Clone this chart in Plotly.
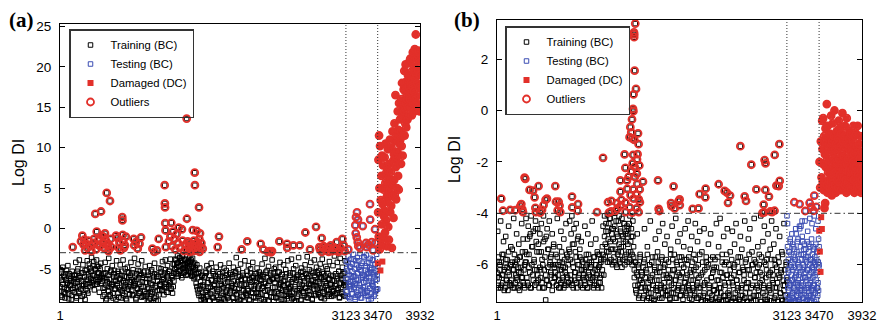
import numpy as np
import plotly.graph_objects as go

# ---------------- data ----------------
boundaries = [1, 3123, 3470, 3932]
x_tick_labels = ["1", "3123", "3470", "3932"]

thr_a = -3.0
thr_b = -4.0

yticks_a = [-5, 0, 5, 10, 15, 20, 25]
yticks_b = [-6, -4, -2, 0, 2]
yrange_a = [-9.1, 25.3]
yrange_b = [-7.45, 3.52]

# Panel (a) training (BC), samples 1..3123: spread of the cloud
train_a_base = [
    -7.2,-5.1,-8.3,-6.4,-4.8,-7.9,-6.0,-8.6,-5.6,-7.4,-6.8,-4.6,-8.1,-5.9,-7.0,-6.5,-8.8,-5.3,-7.6,-6.2,
    -5.8,-7.3,-4.2,-8.4,-6.6,-5.0,-7.8,-3.9,-6.1,-8.9,-5.5,-7.1,-4.5,-6.9,-8.2,-5.2,-7.5,-6.3,-4.0,-8.0,
    -6.0,-4.4,-7.2,-5.3,-3.6,-6.7,-5.8,-4.1,-7.6,-5.0,-6.3,-3.9,-6.9,-5.5,-4.7,-7.9,-6.1,-4.3,-5.7,-6.5,
    -8.4,-5.6,-7.3,-4.2,-8.9,-6.2,-5.0,-7.7,-3.7,-6.8,-8.2,-5.4,-7.0,-4.6,-8.6,-6.0,-5.2,-7.5,-6.5,-4.0,
    -7.1,-5.3,-8.5,-6.3,-4.5,-7.6,-5.8,-8.0,-3.9,-6.7,-7.4,-5.0,-8.7,-6.0,-4.8,-7.2,-5.5,-8.2,-6.6,-4.2,
    -6.4,-8.3,-5.1,-7.0,-3.7,-6.8,-8.6,-5.6,-7.5,-4.4,-6.1,-8.0,-5.3,-7.2,-4.0,-6.6,-8.4,-5.8,-7.8,-4.7,
    -8.1,-6.2,-9.1,-5.4,-7.4,-4.6,-8.7,-6.8,-5.1,-7.9,-9.2,-6.0,-4.3,-7.1,-8.4,-5.7,-6.5,-8.9,-4.9,-7.6,
    -6.9,-5.0,-7.7,-4.1,-6.3,-8.2,-5.5,-3.9,-7.2,-6.0,-4.6,-7.9,-5.3,-6.7,-3.8,-7.4,-5.8,-8.0,-4.4,-6.5,
    -5.0,-3.8,-5.6,-4.3,-3.4,-5.9,-4.7,-3.6,-5.2,-4.0,-6.1,-3.3,-4.9,-5.5,-3.9,-4.5,-5.8,-3.5,-4.2,-5.3,
    -4.6,-3.4,-5.4,-4.1,-5.9,-3.7,-4.8,-6.2,-4.3,-5.1,-6.8,-4.5,-7.6,-5.6,-8.3,-4.9,-7.1,-8.8,-5.8,-7.9,
    -8.6,-6.1,-9.1,-5.3,-7.7,-4.6,-8.2,-6.7,-5.0,-8.9,-7.3,-4.3,-6.4,-8.5,-5.6,-7.0,-9.0,-5.9,-4.8,-7.5,
    -7.8,-5.4,-8.8,-6.5,-4.5,-9.2,-7.1,-5.9,-8.3,-4.9,-6.8,-9.0,-5.2,-7.6,-8.6,-6.2,-4.3,-8.0,-5.7,-7.3,
    -6.0,-8.5,-4.8,-7.4,-9.2,-5.5,-3.6,-8.1,-6.6,-5.1,-8.9,-7.0,-4.4,-6.3,-8.4,-5.8,-7.7,-9.1,-4.0,-6.9,
    -8.2,-5.3,-7.5,-4.6,-8.8,-6.4,-5.0,-7.9,-6.1,-4.2,-8.5,-7.1,-5.6,-9.0,-6.7,-4.9,-7.4,-8.1,-5.4,-6.3,
    -5.9,-8.7,-4.4,-7.2,-6.0,-9.1,-3.7,-6.8,-8.3,-5.2,-7.6,-4.7,-8.9,-6.5,-5.5,-7.9,-3.9,-6.2,-8.5,-5.0,
    -7.3,-4.8,-8.6,-6.1,-5.4,-9.0,-7.0,-4.2,-6.7,-8.2,-5.7,-7.6,-4.5,-8.8,-6.4,-5.1,-7.8,-8.4,-4.0,-6.9,
    -8.0,-5.5,-7.2,-3.8,-8.7,-6.3,-5.0,-9.0,-7.5,-4.6,-6.0,-8.4,-5.8,-3.6,-7.7,-6.6,-8.9,-4.9,-7.0,-5.3,
    -6.2,-8.3,-4.5,-7.4,-5.7,-3.5,-8.6,-6.9,-5.1,-7.8,-4.2,-6.5,-8.8,-5.5,-7.1,-3.9,-6.0,-8.1,-4.8,-7.5,
    -7.9,-5.2,-6.8,-4.4,-8.5,-6.1,-3.8,-7.3,-5.6,-8.7,-6.6,-4.7,-7.6,-5.0,-8.2,-6.3,-4.1,-7.0,-5.8,-8.4,
    -6.4,-4.6,-7.7,-3.4,-8.1,-5.9,-6.9,-4.2,-7.4,-5.3,-8.6,-3.7,-6.2,-7.9,-4.8,-5.6,-8.3,-6.7,-4.0,-7.1,
]
# Panel (a) training (BC): the dense lower core of the cloud
train_a_core = [
    -6.1,-7.8,-5.4,-8.5,-6.9,-5.8,-7.3,-8.1,-6.4,-5.2,-7.6,-6.7,-8.7,-5.6,-7.0,-6.2,-8.3,-5.9,-7.4,-6.6,
    -7.9,-5.7,-6.8,-8.6,-5.3,-7.2,-6.3,-8.0,-5.9,-7.5,-6.5,-8.4,-5.5,-7.1,-6.0,-8.8,-6.9,-5.1,-7.7,-6.4,
    -5.6,-6.8,-4.9,-6.2,-5.3,-7.0,-4.6,-6.5,-5.8,-6.9,-5.1,-6.0,-4.7,-6.6,-5.5,-6.3,-5.0,-6.8,-5.9,-6.1,
    -7.4,-6.1,-8.2,-5.5,-7.0,-8.7,-6.6,-5.8,-7.8,-6.3,-8.4,-5.2,-7.2,-6.9,-8.0,-5.6,-7.5,-6.4,-8.8,-6.0,
    -6.8,-8.0,-5.6,-7.3,-6.2,-8.6,-5.3,-7.7,-6.5,-8.3,-5.9,-7.0,-6.7,-8.9,-5.4,-7.5,-6.1,-8.1,-5.8,-7.2,
    -7.6,-5.5,-8.2,-6.6,-7.1,-5.9,-8.8,-6.3,-7.4,-5.2,-8.0,-6.9,-7.8,-5.7,-8.5,-6.1,-7.2,-5.4,-8.3,-6.7,
    -8.4,-6.7,-7.5,-5.8,-8.9,-6.2,-7.8,-5.3,-8.1,-7.0,-6.4,-8.6,-5.6,-7.3,-9.0,-6.0,-7.7,-5.9,-8.2,-6.9,
    -7.0,-5.4,-6.6,-7.6,-5.8,-6.2,-7.3,-5.1,-6.9,-7.9,-5.6,-6.4,-7.1,-5.3,-6.7,-7.5,-5.9,-6.1,-7.2,-5.5,
    -4.4,-5.1,-3.9,-4.8,-5.6,-4.2,-5.3,-3.7,-4.6,-5.8,-4.0,-5.0,-4.5,-5.4,-3.8,-4.9,-5.2,-4.3,-5.7,-4.1,
    -5.0,-4.2,-5.5,-3.9,-4.7,-5.8,-4.4,-5.2,-6.0,-4.9,-5.6,-7.2,-6.1,-8.0,-5.4,-7.5,-6.6,-8.4,-5.9,-7.0,
    -7.2,-8.8,-6.0,-7.9,-5.5,-8.4,-6.7,-7.4,-9.0,-5.8,-8.1,-6.4,-7.7,-5.3,-8.6,-6.9,-7.1,-5.9,-8.3,-6.2,
    -8.5,-6.3,-7.6,-5.6,-9.1,-6.9,-8.0,-5.4,-7.3,-8.7,-6.1,-7.9,-5.8,-8.3,-6.6,-7.2,-9.0,-5.5,-7.7,-6.8,
    -7.1,-5.7,-8.6,-6.5,-7.8,-5.3,-8.2,-6.9,-9.1,-6.0,-7.4,-5.9,-8.8,-6.3,-7.6,-5.5,-8.4,-7.0,-6.2,-8.0,
    -6.9,-8.3,-5.8,-7.7,-6.2,-8.9,-5.5,-7.2,-6.6,-8.0,-5.9,-7.5,-6.4,-8.6,-5.6,-7.9,-6.1,-8.4,-7.1,-5.7,
    -8.1,-6.4,-7.4,-5.7,-8.8,-6.8,-7.7,-5.4,-8.3,-6.1,-7.1,-9.0,-6.5,-7.9,-5.8,-8.5,-6.3,-7.3,-5.5,-8.0,
    -6.7,-8.5,-5.9,-7.8,-6.3,-8.1,-5.4,-7.4,-6.9,-8.8,-5.7,-7.1,-6.5,-8.3,-6.0,-7.6,-5.6,-8.7,-6.8,-7.3,
    -7.5,-5.8,-8.3,-6.6,-7.9,-5.5,-8.6,-6.2,-7.2,-9.0,-6.4,-7.7,-5.7,-8.1,-6.9,-7.4,-5.4,-8.8,-6.0,-7.8,
    -8.0,-6.5,-7.3,-5.6,-8.5,-6.1,-7.7,-5.9,-8.2,-6.8,-7.0,-5.3,-8.7,-6.4,-7.5,-5.8,-8.3,-6.7,-7.1,-5.5,
    -6.6,-8.2,-5.7,-7.4,-6.0,-8.6,-5.4,-7.8,-6.3,-8.0,-5.9,-7.1,-6.8,-8.4,-5.6,-7.6,-6.2,-8.1,-6.9,-7.3,
    -7.8,-5.9,-8.3,-6.5,-7.1,-5.6,-8.0,-6.2,-7.6,-5.3,-8.5,-6.8,-7.3,-5.8,-8.1,-6.4,-7.0,-5.5,-8.4,-6.7,
]
# Panel (a) training samples above the threshold (sample number, Log DI)
train_a_out_idx = [
    140, 245, 266, 285, 299, 386, 449, 402, 372, 424, 438, 511, 547, 474, 503, 518, 536, 613, 631, 681,
    683, 686, 692, 711, 642, 806, 886, 812, 1031, 1079, 1144, 1146, 1148, 1150, 1153, 1156, 1216, 1235,
    1206, 1275, 1297, 1333, 1384, 1387, 1450, 1472, 1474, 1519, 1494, 1530, 1522, 1723, 1737, 1985, 2046,
    2193, 2221, 2287, 2396, 2480, 2482, 2549, 2619, 2680, 2797, 2859, 2833, 2877, 2931, 3022, 3084, 3099,
    3051, 2957, 2731,
    230, 258, 275, 310, 330, 345, 360, 395, 410, 455, 465, 480, 492, 525, 530, 555, 560, 650, 660, 700,
    720, 830, 850, 870, 1010, 1060, 1190, 1225, 1250, 1260, 1290, 1310, 1340, 1355,
    1370, 1385, 1395, 1405, 1415, 1425, 1435, 1445, 1455, 1462, 1470, 1478, 1485, 1492, 1500, 1508, 1515,
    1525, 1535, 1545, 1560, 2272, 2290, 2305, 2316, 2840, 2860, 2880, 2900, 2915, 2935, 2950, 2975, 2990,
    3010, 3040, 3065, 3110,
]
train_a_out_val = [
    -2.3, -0.9, -1.4, -1.9, -2.4, 1.8, 2.1, -0.4, -1.3, -1.3, -2.2, 4.4, 3.4, -1.0, -1.5, -2.1, -2.5, -0.9, -1.2, 1.4,
    1.0, -0.8, -1.6, -2.1, -2.4, -1.3, -1.1, -2.1, -2.9, -1.3, 5.35, 3.1, 2.6, 0.65, -0.25, -2.3, 0.7, -0.4,
    -1.0, -0.7, 0.1, -0.1, 13.6, 1.2, -0.2, 6.9, 5.35, 2.6, -0.3, -0.6, -1.3, -2.3, -1.0, -2.6, -1.6,
    -1.9, -2.6, -2.8, -1.6, -1.9, -2.4, -2.1, -2.1, -0.5, 0.2, -1.2, -2.3, -2.3, -2.4, -1.7, -1.3, -2.1,
    -2.7, -2.1, -2.6,
    -1.6, -2.0, -2.7, -1.5, -2.2, -2.8, -1.8, -2.6, -2.0, -0.9, -1.8, -2.4, -0.6, -1.9, -2.8, -1.3, -2.3, -1.8, -2.7, -2.4,
    -1.0, -1.7, -2.5, -1.9, -2.5, -2.7, -1.6, -2.2, -1.3, -2.6, -1.8, -2.4, -1.5, -2.8,
    -2.0, -2.6, -1.6, -2.3, -2.9, -1.8, -2.5, -2.1, -2.8, -1.5, -2.4, -1.9, -2.7, -2.2, -1.7, -2.6, -2.0,
    -2.9, -2.3, -1.8, -2.5, -2.9, -2.85, -2.95, -2.8, -2.6, -2.9, -2.2, -2.7, -2.4, -2.9, -2.5, -2.8, -2.3,
    -2.6, -2.9, -2.4, -2.8,
]
# Panel (a) testing (BC), samples 3124..3470
test_a_base = [
    -6.2,-4.1,-7.8,-5.3,-3.4,-8.5,-6.9,-4.7,-7.2,-3.8,-5.9,-8.1,-4.4,-6.6,-3.2,-7.5,-5.0,-8.8,-4.0,-6.3,
    -7.0,-3.6,-5.6,-8.3,-4.8,-6.8,-3.1,-7.7,-5.2,-8.6,-4.3,-6.0,-7.3,-3.5,-5.8,-8.0,-4.6,-6.5,-3.3,-7.9,
    -5.4,-8.4,-4.2,-6.1,-7.4,-3.7,-5.1,-8.7,-4.9,-6.7,-7.1,-3.9,-5.5,-8.2,-4.5,-6.4,-7.6,-3.2,-5.7,-7.5,
]
test_a_core = [
    -7.8,-5.0,-8.4,-6.3,-4.2,-7.1,-5.7,-8.7,-6.6,-4.8,-7.5,-5.3,-8.1,-6.0,-3.8,-7.3,-5.9,-8.5,-6.8,-4.5,
    -7.9,-5.5,-8.2,-6.4,-4.0,-7.0,-5.1,-8.6,-6.1,-4.6,-7.6,-5.8,-8.0,-6.7,-3.6,-7.2,-5.2,-8.3,-6.2,-4.3,
    -7.7,-5.6,-8.8,-6.5,-4.9,-7.4,-5.4,-8.1,-6.9,-3.9,-7.1,-5.7,-8.4,-6.0,-4.4,-7.8,-5.3,-7.5,-6.3,-4.7,
]
test_a_out_idx = [3244, 3233, 3226, 3255, 3307, 3230, 3241, 3252, 3258, 3386, 3388, 3441, 3343, 3368,
                  3149, 3277, 3351, 3405, 3445, 3420]
test_a_out_val = [2.0, 1.4, 0.4, 1.1, 0.3, -0.6, -1.1, -1.7, -2.2, 3.0, 1.1, -0.1, -1.8, -2.0,
                  -2.6, -2.4, -2.3, -1.7, -1.8, -2.7]
# Panel (a) damaged (DC), samples 3471..3932
dmg_a = [
    -4.3, 2.0, 8.5, -1.0, 11.5, 5.0, -2.6, 10.2, -5.2, 3.5,
    -2.0, 6.5, 0.5, 9.0, -4.1, 3.0, 7.8, -1.2, 4.8, 1.5,
    2.2, 8.8, -0.5, 5.6, 10.5, 1.0, 6.9, -2.2, 4.0, 7.5,
    3.3, 9.8, 0.2, 6.2, -1.4, 8.0, 4.5, 11.0, 2.0, 5.3,
    7.0, 2.8, 10.0, -2.4, 5.5, 12.0, 4.0, 8.4, 1.3, 9.2,
    6.0, 13.0, 4.2, 10.8, 16.5, 7.6, 3.6, 11.5, 8.8, 5.0,
    9.5, 14.5, 6.5, 12.2, 4.8, 15.5, 10.5, 8.0, 13.5, 11.0,
    12.0, 8.0, 16.0, 10.2, 18.0, 13.8, 9.0, 15.0, 11.5, 17.2,
    14.5, 19.5, 11.5, 17.0, 13.0, 20.3, 15.5, 12.5, 18.2, 16.0,
    16.5, 13.5, 19.0, 15.0, 20.5, 17.5, 14.0, 18.5, 16.0, 21.0,
    18.0, 15.0, 20.8, 16.8, 14.0, 19.5, 17.5, 21.8, 15.5, 18.8,
    17.0, 20.0, 14.5, 22.2, 18.5, 16.0, 24.0, 19.0, 15.5, 21.0,
    18.0, 21.5, 15.0, 19.5, 16.5, 22.0, 17.5, 20.5, 14.5, 19.0,
]

# Panel (b) training (BC): spread of the cloud
train_b_base = [
    -6.5,-4.7,-6.9,-5.9,-6.2,-4.3,-6.8,-5.6,-6.4,-5.1,-7.0,-6.1,-4.9,-6.6,-5.8,-6.3,-4.5,-6.7,-6.0,-5.3,
    -6.8,-5.4,-6.2,-4.2,-6.9,-5.9,-6.4,-4.8,-6.6,-6.1,-5.2,-7.0,-5.7,-6.3,-4.4,-6.5,-5.0,-6.8,-6.0,-5.5,
    -4.2,-5.6,-6.7,-4.5,-6.1,-4.9,-6.9,-4.1,-5.3,-6.4,-4.7,-5.9,-6.8,-4.3,-5.1,-6.2,-4.6,-6.6,-5.5,-4.8,
    -6.5,-4.4,-5.8,-6.9,-4.1,-6.2,-5.0,-7.37,-6.6,-4.6,-5.4,-6.8,-4.3,-6.0,-5.7,-6.4,-4.8,-6.7,-5.2,-6.1,
    -6.3,-5.6,-6.8,-4.2,-6.0,-6.6,-5.3,-6.9,-4.7,-6.2,-5.9,-6.5,-5.0,-6.8,-6.1,-4.4,-6.4,-5.7,-6.7,-5.4,
    -4.3,-5.8,-6.6,-4.1,-5.2,-6.9,-4.6,-6.3,-5.5,-4.4,-6.7,-6.0,-4.9,-6.4,-5.7,-6.8,-5.1,-6.2,-5.9,-6.5,
    -6.6,-4.5,-6.1,-5.6,-6.9,-4.8,-6.3,-5.9,-6.7,-5.2,-6.0,-4.3,-6.5,-5.7,-6.8,-6.2,-5.0,-6.4,-5.5,-6.9,
    -6.1,-5.6,-6.7,-5.9,-6.4,-5.3,-4.5,-5.8,-4.1,-5.2,-4.7,-5.5,-4.05,-5.0,-4.4,-5.9,-4.2,-5.4,-4.8,-6.0,
    -4.6,-5.7,-4.0,-5.1,-4.3,-6.1,-4.9,-5.5,-4.1,-5.9,-4.7,-5.3,-4.2,-5.8,-5.0,-4.4,-6.0,-4.8,-5.6,-4.5,
    -5.2,-4.6,-5.9,-4.1,-5.5,-4.9,-6.0,-4.3,-5.7,-6.5,-5.9,-7.0,-6.3,-4.8,-6.8,-6.1,-7.2,-5.6,-6.6,-6.9,
    -6.4,-7.3,-5.9,-4.6,-6.9,-6.2,-7.4,-5.3,-6.7,-7.1,-6.0,-4.3,-6.5,-7.3,-5.7,-6.8,-7.4,-6.1,-5.0,-7.0,
    -6.6,-5.5,-7.2,-4.7,-6.3,-6.9,-5.8,-7.3,-4.4,-6.1,-6.7,-5.2,-7.0,-6.4,-4.9,-7.2,-5.9,-6.5,-7.3,-5.4,
    -6.8,-4.5,-6.2,-7.1,-5.6,-6.6,-4.2,-7.3,-6.0,-5.1,-6.9,-6.4,-4.8,-7.2,-5.7,-6.3,-7.0,-5.3,-6.7,-4.6,
    -7.1,-5.8,-6.4,-4.3,-6.9,-7.3,-5.4,-6.2,-4.9,-7.0,-6.6,-5.6,-7.2,-4.4,-6.1,-6.8,-5.1,-7.3,-6.5,-4.7,
    -6.9,-7.43,-5.5,-6.3,-7.2,-4.6,-6.7,-7.4,-5.9,-6.1,-7.43,-5.2,-6.8,-7.1,-4.8,-6.5,-7.35,-5.7,-6.2,-7.0,
    -5.8,-7.3,-4.4,-6.6,-7.43,-5.3,-6.9,-4.2,-7.1,-6.3,-5.6,-7.4,-4.9,-6.7,-7.2,-5.9,-6.4,-4.6,-7.35,-6.0,
    -7.2,-5.5,-6.5,-7.43,-4.7,-6.8,-6.1,-5.2,-7.3,-4.4,-6.6,-7.0,-5.7,-6.3,-7.43,-4.9,-6.9,-5.4,-7.2,-6.2,
    -6.4,-4.3,-7.1,-5.8,-6.7,-7.43,-5.0,-6.2,-4.6,-7.3,-6.9,-5.5,-6.0,-7.4,-4.2,-6.5,-5.9,-7.2,-6.8,-5.3,
    -7.0,-5.6,-6.3,-4.1,-7.43,-6.6,-5.1,-6.9,-4.5,-7.2,-6.0,-5.8,-7.35,-4.8,-6.4,-6.8,-5.4,-7.1,-4.3,-6.2,
    -6.7,-5.2,-7.3,-6.0,-4.6,-6.9,-7.43,-5.7,-6.4,-4.9,-7.1,-6.2,-5.5,-7.4,-6.6,-4.4,-6.8,-7.2,-5.9,-6.5,
]
# Panel (b) training (BC): the dense lower core of the cloud
train_b_core = [
    -6.3,-6.8,-5.7,-6.5,-6.0,-6.9,-5.9,-6.4,-6.7,-5.6,-6.2,-6.9,-5.8,-6.6,-6.1,-7.0,-5.5,-6.4,-6.8,-6.0,
    -6.6,-5.9,-6.9,-6.2,-5.6,-6.7,-6.0,-6.5,-5.8,-6.9,-6.3,-5.7,-6.8,-6.1,-6.5,-5.5,-6.7,-6.2,-6.9,-5.9,
    -5.9,-6.5,-5.0,-6.8,-5.6,-6.3,-4.8,-6.9,-6.0,-5.3,-6.6,-5.8,-6.2,-4.6,-6.7,-5.5,-6.4,-5.2,-6.9,-6.1,
    -6.2,-5.5,-6.7,-6.0,-5.1,-6.9,-5.7,-6.4,-4.9,-6.6,-6.1,-5.4,-6.8,-5.9,-6.3,-5.6,-7.0,-6.0,-5.3,-6.5,
    -6.5,-6.0,-6.8,-5.7,-6.4,-6.9,-5.9,-6.2,-6.7,-5.5,-6.6,-6.1,-6.9,-5.8,-6.3,-6.8,-5.6,-6.5,-6.0,-6.7,
    -5.5,-6.4,-4.8,-6.8,-5.9,-6.1,-5.2,-6.6,-6.3,-5.7,-6.9,-5.0,-6.5,-6.0,-5.4,-6.7,-6.2,-5.8,-6.9,-6.4,
    -6.2,-6.8,-5.8,-6.5,-6.0,-6.9,-5.6,-6.4,-6.7,-6.1,-5.9,-6.6,-6.3,-6.9,-5.7,-6.5,-6.0,-6.8,-6.2,-5.6,
    -6.7,-6.0,-6.5,-5.8,-6.9,-6.2,-5.6,-6.4,-4.9,-5.7,-4.4,-5.3,-5.9,-4.7,-5.5,-4.2,-5.1,-5.8,-4.6,-5.4,
    -5.0,-5.9,-4.5,-5.4,-6.0,-4.8,-5.6,-4.3,-5.2,-5.8,-4.6,-5.5,-6.1,-4.9,-5.3,-4.4,-5.7,-5.1,-4.7,-5.9,
    -4.8,-5.5,-4.4,-5.8,-5.1,-4.6,-5.6,-4.9,-5.3,-6.2,-6.8,-5.9,-7.1,-6.4,-6.0,-7.3,-6.6,-5.7,-6.9,-6.3,
    -6.7,-6.1,-7.2,-5.8,-6.5,-7.0,-6.3,-5.6,-6.9,-7.3,-6.0,-6.6,-7.1,-5.9,-6.4,-6.8,-7.35,-6.2,-5.7,-6.9,
    -6.3,-7.0,-5.9,-6.6,-7.3,-6.1,-6.8,-5.7,-7.1,-6.4,-6.9,-6.0,-7.2,-5.8,-6.5,-7.0,-6.2,-6.7,-7.35,-5.6,
    -7.1,-6.4,-5.8,-6.9,-6.2,-7.3,-6.6,-5.9,-7.0,-6.3,-6.8,-5.7,-7.2,-6.5,-6.0,-6.9,-7.35,-6.1,-5.8,-6.7,
    -6.5,-7.2,-6.0,-6.8,-5.7,-7.0,-6.3,-6.6,-7.35,-5.9,-6.9,-6.2,-7.1,-5.8,-6.4,-7.3,-6.7,-6.0,-6.9,-5.6,
    -7.2,-6.4,-7.43,-5.9,-6.8,-7.1,-6.2,-7.4,-5.7,-6.6,-7.3,-6.0,-6.9,-7.43,-5.8,-6.5,-7.2,-6.3,-7.0,-6.1,
    -6.8,-7.43,-6.1,-7.1,-5.7,-6.6,-7.35,-6.3,-6.9,-7.43,-5.9,-6.5,-7.2,-6.0,-6.8,-7.4,-5.6,-6.4,-7.1,-6.7,
    -7.0,-6.2,-7.43,-5.8,-6.7,-7.3,-6.4,-6.0,-7.1,-7.43,-6.6,-5.9,-6.9,-7.35,-6.3,-5.7,-7.2,-6.8,-6.1,-7.43,
    -6.6,-7.3,-5.9,-6.9,-7.43,-6.2,-6.7,-5.6,-7.1,-6.4,-7.43,-6.0,-6.8,-7.2,-5.8,-6.5,-7.4,-6.3,-6.9,-6.1,
    -7.2,-6.0,-6.7,-7.43,-5.7,-6.4,-7.1,-6.8,-5.9,-7.35,-6.5,-6.2,-7.43,-5.6,-6.9,-7.0,-6.3,-7.4,-5.8,-6.6,
    -6.4,-7.43,-5.8,-6.9,-7.2,-6.1,-6.7,-7.43,-5.9,-6.5,-7.1,-6.3,-7.35,-5.6,-6.8,-7.0,-6.2,-7.43,-6.0,-6.6,
]
train_b_out_idx = [
    47, 66, 144, 198, 252, 263, 274, 281, 298, 306, 352, 389, 406, 414, 420, 449, 467, 486, 503, 524,
    539, 629, 636, 654, 665, 675, 683, 809, 811, 870, 874, 1078, 1143, 1196, 1207, 1229, 1232,
    1279, 1293, 1300, 1329, 1331, 1335, 1340, 1375, 1383, 1384, 1387, 1401, 1404, 1419, 1429, 1430, 1437,
    1439, 1447, 1451, 1455, 1456, 1458, 1462, 1466, 1468, 1469, 1470, 1471, 1472, 1476, 1478, 1479, 1480,
    1483, 1484, 1486, 1490, 1498, 1502, 1503, 1507, 1509, 1511, 1515, 1520, 1526, 1527, 1528, 1534, 1538,
    1540, 1573,
    1735, 1742, 1749, 1875, 1880, 1903, 1914, 1957, 1968, 1970, 2108, 2172, 2183, 2245, 2248, 2388, 2453,
    2478, 2489, 2511, 2622, 2668, 2683, 2740, 2794, 2860, 2873, 2880, 2883, 2891, 2893, 2930, 2945, 2963,
    2990, 2992, 3010, 3035, 3042, 3046,
]
train_b_out_val = [
    -3.43, -3.90, -3.87, -3.88, -3.72, -3.64, -3.85, -3.95, -2.61, -2.66, -3.09, -3.12, -3.38, -3.79, -3.95, -2.94, -3.97, -3.87, -3.68, -3.48,
    -3.43, -2.94, -3.55, -3.89, -3.55, -3.70, -3.95, -3.35, -3.77, -3.90, -3.64, -3.95, -1.84, -3.57, -3.97, -3.93, -3.52,
    -3.90, -3.60, -3.81, -2.72, -3.16, -3.69, -3.48, -1.71, -2.23, -3.59, -3.95, -2.72, -3.05, -2.58, -1.04, -3.77, -0.65,
    -3.29, -0.85, -2.37, -0.35, -1.09, -3.97, -2.06, 0.06, -1.73, -3.07, -0.03, -3.43, 0.63, 3.04, 2.85, 2.96, -1.14,
    1.55, -2.19, -2.58, 3.38, 0.84, -3.25, -3.81, -2.46, -1.90, -2.86, -1.70, -0.89, -1.31, -3.95, -3.46, -2.14, -3.07,
    -3.57, -2.77,
    -2.72, -3.83, -3.91, -3.60, -3.72, -2.95, -3.81, -3.53, -3.46, -3.68, -3.83, -3.81, -3.25, -3.38, -3.04, -2.87, -3.13,
    -3.20, -3.59, -3.31, -1.39, -3.34, -3.52, -2.11, -3.07, -3.98, -3.66, -3.96, -1.93, -3.09, -2.06, -3.35, -3.93, -3.95,
    -3.90, -1.73, -2.92, -2.94, -1.31, -2.74,
]
test_b_base = [
    -4.1,-4.4,-6.2,-7.3,-5.5,-6.8,-5.0,-7.43,-6.1,-4.8,-6.6,-7.1,-5.3,-6.9,-5.8,-7.4,-4.6,-6.4,-7.2,-5.1,
    -6.7,-5.9,-7.43,-4.5,-6.3,-7.0,-5.6,-6.8,-4.9,-7.3,-6.0,-5.4,-7.1,-4.3,-6.5,-5.7,-7.4,-6.2,-4.7,-6.9,
    -5.2,-7.2,-4.2,-6.6,-5.8,-7.0,-4.4,-6.1,-5.3,-6.8,-4.1,-5.9,-7.1,-4.6,-6.3,-5.5,-6.9,-4.3,-5.0,-6.0,
]
test_b_core = [
    -6.5,-7.2,-5.3,-6.9,-7.43,-5.8,-6.3,-7.0,-5.5,-6.7,-7.35,-6.0,-5.1,-6.8,-7.2,-5.6,-6.4,-7.43,-5.9,-6.6,
    -7.1,-5.2,-6.2,-7.3,-5.7,-6.9,-7.43,-6.1,-5.4,-6.5,-7.0,-5.8,-6.7,-7.4,-4.8,-6.3,-7.2,-5.5,-6.8,-7.43,
    -6.0,-5.0,-6.6,-7.1,-5.6,-6.4,-7.35,-4.6,-6.1,-6.9,-5.3,-7.2,-4.5,-6.7,-5.8,-7.0,-4.3,-6.2,-5.1,-6.5,
    -6.8,-5.6,-7.3,-6.1,-5.2,-7.0,-6.5,-5.8,-7.43,-6.3,-5.4,-6.9,-7.2,-5.9,-6.6,-5.1,-7.35,-6.2,-5.7,-6.8,
    -7.1,-5.5,-6.4,-7.43,-6.0,-5.3,-6.7,-7.2,-5.8,-6.3,-7.4,-5.0,-6.9,-6.1,-5.6,-7.3,-6.5,-5.9,-7.0,-6.2,
    -5.4,-6.8,-7.43,-5.7,-6.4,-7.1,-6.0,-5.2,-6.6,-7.35,-5.8,-6.9,-6.3,-5.5,-7.2,-6.7,-5.9,-7.0,-6.1,-5.3,
]
test_b_out_idx = [3203, 3260, 3321, 3368, 3386, 3418, 3411, 3440]
test_b_out_val = [-3.57, -3.64, -3.91, -3.59, -3.75, -3.31, -3.90, -3.75]
dmg_b = [
    -4.68, -2.0, -5.49, -3.0, -6.28, -1.2, -4.15, -2.6, -4.61, -0.4,
    -1.5, -2.8, -0.3, -2.1, -3.1, -1.0, -3.8, -1.7, -3.6, -0.7,
    -2.2, -1.3, -2.9, 0.25, -1.9, -3.2, -0.6, -2.4, -1.1, -2.7,
    -1.6, -3.0, -0.9, -2.3, -1.4, -2.8, -0.2, -2.0, -3.3, -1.2,
    -2.6, -0.5, -1.8, -3.1, -1.0, -2.2, 0.0, -2.9, -1.5, -2.4,
    -3.2, -1.3, -2.0, -0.8, -2.7, -1.6, -3.0, -1.1, -2.3, -0.4,
    -1.9, -2.8, -0.7, -2.5, -1.4, -3.1, -0.9, -2.1, -1.7, -2.6,
    -0.1, -2.3, -1.2, -3.0, -1.8, -2.6, -1.0, -2.9, -0.6, -2.0,
    -2.7, -1.5, -3.2, -0.3, -2.1, -1.3, -2.8, -1.9, -0.8, -2.4,
    -1.1, -3.0, -2.2, -1.6, -2.6, -0.9, -3.1, -1.4, -2.3, -1.8,
    -2.9, -1.2, -2.0, -0.6, -2.7, -1.7, -3.2, -1.0, -2.4, -1.5,
    -2.2, -0.9, -2.8, -1.4, -3.0, -2.0, -0.6, -2.5, -1.8, -3.1,
    -1.3, -2.6, -1.9, -2.9, -1.0, -2.3, -3.2, -1.6, -2.7, -2.0,
]

# ---------------- styling ----------------
BLACK = "#000000"
BLUE = "#3b4db3"
RED = "#e2302a"
FONT = "Liberation Sans, Arial, sans-serif"
W, H = 878, 323

fig = go.Figure()


def add_panel(base, core, out_idx, out_val, tbase, tcore, tout_idx, tout_val, dmg, thr, xa, ya, leg):
    b0, b1, b2, b3 = boundaries
    tr_x = np.concatenate([np.linspace(b0, b1, len(base)), np.linspace(b0, b1, len(core)), out_idx])
    tr_y = np.concatenate([base, core, out_val])
    te_x = np.concatenate([np.linspace(b1 + 1, b2, len(tbase)), np.linspace(b1 + 1, b2, len(tcore)), tout_idx])
    te_y = np.concatenate([tbase, tcore, tout_val])
    dm_x = np.linspace(b2 + 1, b3, len(dmg))
    dm_y = np.array(dmg)
    all_x = np.concatenate([tr_x, te_x, dm_x])
    all_y = np.concatenate([tr_y, te_y, dm_y])
    m = all_y > thr
    common = dict(mode="markers", xaxis=xa, yaxis=ya, legend=leg, hoverinfo="skip")
    fig.add_trace(go.Scatter(x=tr_x, y=tr_y, name="Training (BC)",
                             marker=dict(symbol="square-open", size=4.5, color=BLACK, line=dict(width=1)), **common))
    fig.add_trace(go.Scatter(x=te_x, y=te_y, name="Testing (BC)",
                             marker=dict(symbol="square-open", size=4.5, color=BLUE, line=dict(width=1)), **common))
    fig.add_trace(go.Scatter(x=dm_x, y=dm_y, name="Damaged (DC)",
                             marker=dict(symbol="square", size=6, color=RED, line=dict(width=0)), **common))
    fig.add_trace(go.Scatter(x=all_x[m], y=all_y[m], name="Outliers",
                             marker=dict(symbol="circle-open", size=7, color=RED, line=dict(width=1.8)), **common))


add_panel(train_a_base, train_a_core, train_a_out_idx, train_a_out_val, test_a_base, test_a_core,
          test_a_out_idx, test_a_out_val, dmg_a, thr_a, "x", "y", "legend")
add_panel(train_b_base, train_b_core, train_b_out_idx, train_b_out_val, test_b_base, test_b_core,
          test_b_out_idx, test_b_out_val, dmg_b, thr_b, "x2", "y2", "legend2")

dom_a_x = [60 / W, 420 / W]
dom_a_y = [1 - 302 / H, 1 - 24 / H]
dom_b_x = [497 / W, 862 / W]
dom_b_y = [1 - 302 / H, 1 - 20 / H]

xaxis_common = dict(range=[boundaries[0], boundaries[-1]], tickvals=boundaries, ticktext=x_tick_labels,
                    ticks="", tickangle=0, showline=True, linecolor="black", linewidth=1, mirror=True,
                    showgrid=False, zeroline=False, automargin=False, ticklabelstandoff=1,
                    tickfont=dict(family=FONT, size=13, color="black"))
yaxis_common = dict(ticks="inside", ticklen=5, tickwidth=1, tickcolor="black", showline=True,
                    linecolor="black", linewidth=1, mirror="ticks", showgrid=False, zeroline=False,
                    automargin=False, ticklabelstandoff=5,
                    tickfont=dict(family=FONT, size=13.5, color="black"))

legend_common = dict(bgcolor="rgba(255,255,255,0)", bordercolor="#333333", borderwidth=1.5,
                     font=dict(family=FONT, size=11.3, color="black"), xanchor="left", yanchor="top",
                     itemwidth=30, tracegroupgap=0)

fig.update_layout(
    template="none",
    width=W, height=H, autosize=False,
    margin=dict(l=0, r=0, t=0, b=0),
    paper_bgcolor="white", plot_bgcolor="white",
    showlegend=True,
    xaxis=dict(domain=dom_a_x, anchor="y", **xaxis_common),
    yaxis=dict(domain=dom_a_y, anchor="x", range=yrange_a, tickvals=yticks_a,
               ticktext=[str(v) for v in yticks_a], **yaxis_common),
    xaxis2=dict(domain=dom_b_x, anchor="y2", **xaxis_common),
    yaxis2=dict(domain=dom_b_y, anchor="x2", range=yrange_b, tickvals=yticks_b,
                ticktext=[str(v) for v in yticks_b], **yaxis_common),
    legend=dict(x=69 / W, y=1 - 29 / H, **legend_common),
    legend2=dict(x=505 / W, y=1 - 26 / H, **legend_common),
)

# boundary (dotted) and threshold (dash-dot) lines
for xa, ya, thr in (("x", "y", thr_a), ("x2", "y2", thr_b)):
    for bx in boundaries[1:3]:
        fig.add_shape(type="line", xref=xa, yref=ya + " domain", x0=bx, x1=bx, y0=0, y1=1,
                      line=dict(color="#333333", width=1, dash="1px,2px"), layer="above")
    fig.add_shape(type="line", xref=xa + " domain", yref=ya, x0=0, x1=1, y0=thr, y1=thr,
                  line=dict(color="#333333", width=1, dash="6px,3px,1.5px,3px"), layer="above")

# y-axis titles
for px, py in ((18, 163), (455, 160)):
    fig.add_annotation(text="Log DI", xref="paper", yref="paper", x=px / W, y=1 - py / H,
                       showarrow=False, textangle=-90, xanchor="center", yanchor="middle",
                       font=dict(family=FONT, size=16, color="black"))

# panel labels
for label, px, py in (("(a)", 7, 20), ("(b)", 452, 20)):
    fig.add_annotation(text="<b>" + label + "</b>", xref="paper", yref="paper", x=px / W, y=1 - py / H,
                       showarrow=False, xanchor="left", yanchor="middle",
                       font=dict(family="Liberation Serif, Times New Roman, serif", size=21, color="black"))

# the page body has a default 8px margin; remove it so the figure fills the window
fig.write_html("out.html", config={"displayModeBar": False},
               post_script="document.body.style.margin='0px';")
